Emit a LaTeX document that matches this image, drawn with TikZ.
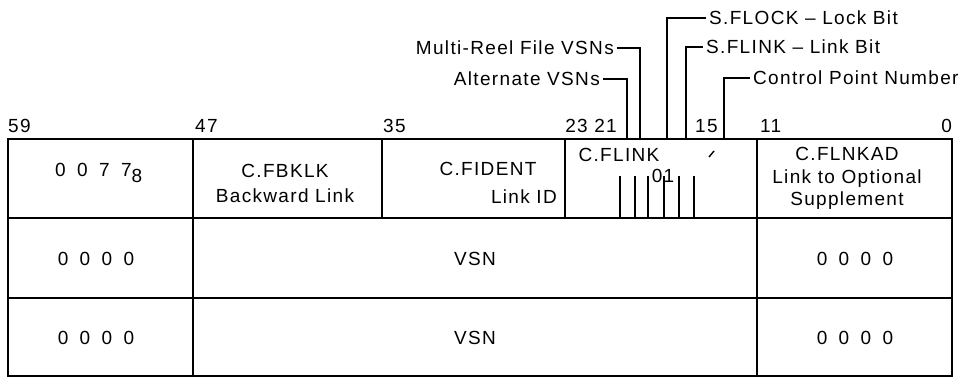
\documentclass[tikz,border=0pt]{standalone}
\usepackage{fontspec}
\setmainfont{Liberation Sans}[LetterSpace=7]

\newcommand{\dgap}{\hspace{0.6em}}

\tikzset{
  txt/.style={inner sep=0pt, font=\fontsize{19}{22}\selectfont},
  lbl/.style={txt, inner xsep=3pt},
  rule/.style={line width=2pt},
  lead/.style={line width=1.4pt},
}

\begin{document}
\begin{tikzpicture}[x=1pt, y=-1pt]
    \useasboundingbox (0,0) rectangle (965,379);

    % Word frame
    \draw[rule] (8,139) rectangle (952,376);
    \draw[rule] (8,218) -- (952,218);
    \draw[rule] (8,298) -- (952,298);
    \foreach \x in {193,757} \draw[rule] (\x,139) -- (\x,376);
    \foreach \x in {382,565} \draw[rule] (\x,139) -- (\x,218);

    % Bit positions
    \foreach \x/\bit/\anc [count=\i] in {8/59/base west, 195/47/base west, 383/35/base west, 617/{23 21}/base east, 695/15/base west, 760/11/base west, 952/0/base east} {
        \node[txt, anchor=\anc] (bit\i) at (\x,132.5) {\bit};
    }

    % Field pins on top edge
    \coordinate (altpin)   at (627,139);
    \coordinate (multipin) at (640,139);
    \coordinate (lockpin)  at (667,139);
    \coordinate (linkpin)  at (686,139);
    \coordinate (cpnpin)   at (724,139);

    % Flag labels
    \node[lbl, anchor=east] (multi) at (617,48) {Multi-Reel File VSNs};
    \node[lbl, anchor=east] (alt)   at (603,79) {Alternate VSNs};
    \node[lbl, anchor=west] (lock)  at (706,18) {S.FLOCK – Lock Bit};
    \node[lbl, anchor=west] (link)  at (703,47) {S.FLINK – Link Bit};
    \node[lbl, anchor=west] (cpn)   at (750,78) {Control Point Number};

    \draw[lead] (multi.east) -| (multipin);
    \draw[lead] (alt.east) -| (altpin);
    \draw[lead] (lock.west) -| (lockpin);
    \draw[lead] (link.west) -| (linkpin);
    \draw[lead] (cpn.west) -| (cpnpin);

    % Word 0
    \node[txt, anchor=base west] (octal) at (55,177) {0\dgap0\dgap7\dgap7\raisebox{-6pt}{8}};
    \node[txt, anchor=base] (fbklk) at (285,178) {C.FBKLK};
    \node[txt, anchor=base] (fbklkd) at (285,203) {Backward Link};
    \node[txt, anchor=base] (fident) at (488,176) {C.FIDENT};
    \node[txt, anchor=base east] (fidentd) at (557,204) {Link ID};
    \node[txt, anchor=base] (flink) at (619,162) {C.FLINK};
    \node[txt, anchor=base] (bits) at (663,183) {01};
    \draw[lead] (709,157) -- (714,151);
    \foreach \x in {620,635,648,664,679,694} \draw[lead] (\x,176) -- (\x,218);
    \node[txt, anchor=base] (flnkad) at (847,161) {C.FLNKAD};
    \node[txt, anchor=base] (flnkadd) at (847,184) {Link to Optional};
    \node[txt, anchor=base] (flnkads) at (847,206) {Supplement};

    % Words 1 and 2
    \foreach \y [count=\i] in {259,338} {
        \node[txt] (pad\i) at (96,\y) {0\dgap0\dgap0\dgap0};
        \node[txt] (vsn\i) at (475,\y) {VSN};
        \node[txt] (fill\i) at (855,\y) {0\dgap0\dgap0\dgap0};
    }
\end{tikzpicture}
\end{document}
